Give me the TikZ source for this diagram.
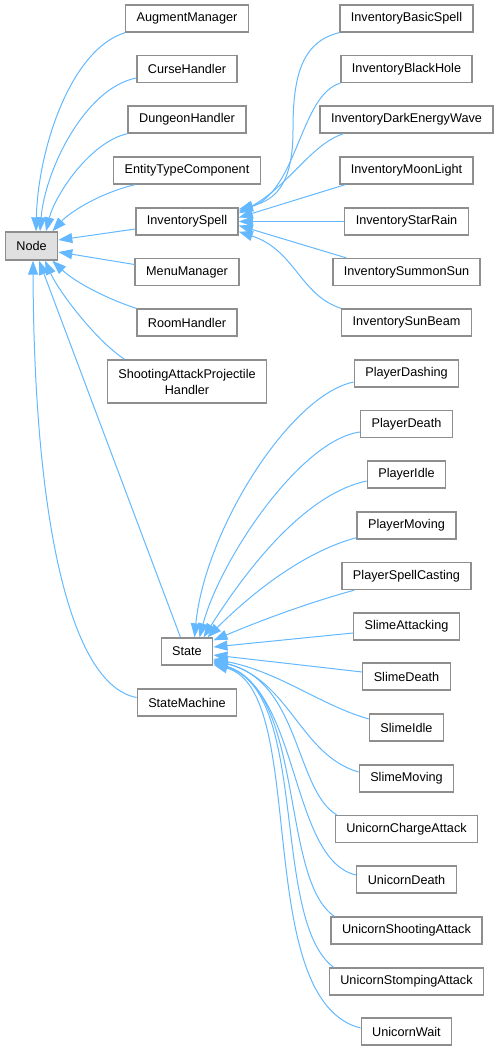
\documentclass[tikz,border=0pt]{standalone}
\usepackage{fontspec}
\setmainfont{Liberation Sans}
\usepackage{tikz}
\usetikzlibrary{arrows.meta,calc}
\definecolor{EdgeBlue}{HTML}{63B8FF}
\definecolor{BorderGray}{HTML}{8E8E8E}
\definecolor{BaseGray}{HTML}{E0E0E0}
\tikzset{
  clase/.style     = {draw=BorderGray, line width=1pt, fill=white, align=center,
                      font=\fontsize{9.5}{12}\selectfont, inner xsep=8.25pt,
                      minimum height=20.25pt},
  clasebase/.style = {clase, fill=BaseGray},
  herencia/.style  = {-{Triangle[length=10.5pt,width=7.5pt]}, draw=EdgeBlue,
                      fill=none, line width=0.75pt},
}
\begin{document}
\begin{tikzpicture}[x=0.75pt,y=-0.75pt]
  \useasboundingbox (0,0) rectangle (501,1051);
  % clase base
  \node[clasebase, minimum height=21pt] (n) at (31.5,246) {Node};
  % hijas de Node
  \node[clase] (aug)   at (187,18.5)  {AugmentManager};
  \node[clase] (curse) at (187,69)    {CurseHandler};
  \node[clase] (dung)  at (187,119.5) {DungeonHandler};
  \node[clase] (ent)   at (187,170.5) {EntityTypeComponent};
  \node[clase] (inv)   at (187,221.5) {InventorySpell};
  \node[clase] (menu)  at (187,272)   {MenuManager};
  \node[clase] (room)  at (187,322.5) {RoomHandler};
  \node[clase, minimum height=32.25pt] (shoot) at (187,381.5) {ShootingAttackProjectile\\Handler};
  \node[clase] (state) at (187,651.5) {State};
  \node[clase] (sm)    at (187,702.5) {StateMachine};
  % hijas de InventorySpell
  \node[clase] (ibs)  at (406.5,18.5)  {InventoryBasicSpell};
  \node[clase] (ibh)  at (406.5,69)    {InventoryBlackHole};
  \node[clase] (idew) at (406.5,119.5) {InventoryDarkEnergyWave};
  \node[clase] (iml)  at (406.5,170.5) {InventoryMoonLight};
  \node[clase] (isr)  at (406.5,221.5) {InventoryStarRain};
  \node[clase] (iss)  at (406.5,272)   {InventorySummonSun};
  \node[clase] (isb)  at (406.5,322.5) {InventorySunBeam};
  % hijas de State
  \node[clase] (pda) at (406.5,373.5)  {PlayerDashing};
  \node[clase] (pde) at (406.5,424)    {PlayerDeath};
  \node[clase] (pid) at (406.5,474.5)  {PlayerIdle};
  \node[clase] (pmo) at (406.5,525.5)  {PlayerMoving};
  \node[clase] (psc) at (406.5,576)    {PlayerSpellCasting};
  \node[clase] (sat) at (406.5,626.5)  {SlimeAttacking};
  \node[clase] (sde) at (406.5,676.5)  {SlimeDeath};
  \node[clase] (sid) at (406.5,727.5)  {SlimeIdle};
  \node[clase] (smo) at (406.5,778.5)  {SlimeMoving};
  \node[clase] (uca) at (406.5,829)    {UnicornChargeAttack};
  \node[clase] (ude) at (406.5,879.5)  {UnicornDeath};
  \node[clase] (usa) at (406.5,930.5)  {UnicornShootingAttack};
  \node[clase] (ust) at (406.5,981.5)  {UnicornStompingAttack};
  \node[clase] (uwa) at (406.5,1031.5) {UnicornWait};

  % herencia -> Node
  \draw[herencia] (aug.south west) .. controls (70,50) and (38,150) .. ($(n.north)+(4.5,0)$);
  \draw[herencia] ($(curse.west)+(0,9)$) .. controls (85,88) and (45,170) .. ($(n.north)+(8.5,0)$);
  \draw[herencia] (dung.south west) .. controls (90,142) and (55,195) .. ($(n.north)+(14.5,0)$);
  \draw[herencia] ($(ent.south)+(-52,0)$) .. controls (100,193) and (70,212) .. ($(n.north east)+(-6,0)$);
  \draw[herencia] ($(inv.west)+(0,7.5)$) -- ($(n.east)+(0,-6)$);
  \draw[herencia] ($(menu.west)+(0,-7.5)$) -- ($(n.east)+(0,6)$);
  \draw[herencia] (room.north west) .. controls (105,298) and (75,282) .. ($(n.south east)+(-6,0)$);
  \draw[herencia] ($(shoot.north west)+(18,0)$) .. controls (95,340) and (58,290) .. ($(n.south)+(13.5,0)$);
  \draw[herencia] ($(state.north)+(-6.5,0)$) -- ($(n.south)+(7.5,0)$);
  \draw[herencia] ($(sm.west)+(0,-5)$) .. controls (70,685) and (34,520) .. ($(n.south)+(1.5,0)$);

  % herencia -> InventorySpell
  \draw[herencia] (ibs.south west) .. controls (300,42) and (293,80) .. (293,130)
    .. controls (293,185) and (275,200) .. ($(inv.north east)+(0,2)$);
  \draw[herencia] (ibh.south west) .. controls (300,95) and (298,190) .. ($(inv.north east)+(0,4)$);
  \draw[herencia] ($(idew.south west)+(24,0)$) .. controls (310,145) and (290,185) .. ($(inv.north east)+(0,6)$);
  \draw[herencia] ($(iml.south west)+(6,0)$) -- ($(inv.east)+(0,-4)$);
  \draw[herencia] (isr.west) -- (inv.east);
  \draw[herencia] ($(iss.north west)+(14,0)$) -- ($(inv.east)+(0,4)$);
  \draw[herencia] (isb.north west) .. controls (300,295) and (295,250) .. ($(inv.south east)+(0,-4)$);

  % herencia -> State
  \draw[herencia] ($(pda.west)+(0,8.5)$) .. controls (290,395) and (205,530) .. ($(state.north)+(7.5,0)$);
  \draw[herencia] ($(pde.west)+(0,8)$) .. controls (300,440) and (220,560) .. ($(state.north)+(12.5,0)$);
  \draw[herencia] ($(pid.west)+(0,6.5)$) .. controls (300,495) and (240,580) .. ($(state.north)+(16.5,0)$);
  \draw[herencia] ($(pmo.south west)+(0,-2)$) .. controls (310,550) and (260,585) .. ($(state.north east)+(-6,0)$);
  \draw[herencia] ($(psc.south west)+(13,0)$) .. controls (300,605) and (250,625) .. ($(state.north east)+(0,3)$);
  \draw[herencia] ($(sat.west)+(0,6.5)$) -- ($(state.east)+(0,-4.5)$);
  \draw[herencia] ($(sde.west)+(0,-4.5)$) -- ($(state.east)+(0,3.5)$);
  \draw[herencia] ($(sid.west)+(0,-8.5)$) .. controls (320,705) and (280,672) .. ($(state.east)+(0,7.5)$);
  \draw[herencia] ($(smo.west)+(0,-6.5)$) .. controls (300,755) and (290,680) .. ($(state.east)+(0,8.5)$);
  \draw[herencia] ($(uca.north west)+(2,0)$) .. controls (295,790) and (300,680) .. ($(state.east)+(0,9.5)$);
  \draw[herencia] ($(ude.west)+(0,-4.5)$) .. controls (290,860) and (300,690) .. ($(state.east)+(0,10.5)$);
  \draw[herencia] ($(usa.north west)+(4,0)$) .. controls (280,880) and (305,690) .. ($(state.east)+(0,11)$);
  \draw[herencia] ($(ust.north west)+(5,0)$) .. controls (270,920) and (310,690) .. ($(state.east)+(0,12)$);
  \draw[herencia] ($(uwa.west)+(0,-3.5)$) .. controls (250,1000) and (310,690) .. ($(state.south east)+(0,-1)$);
\end{tikzpicture}
\end{document}
